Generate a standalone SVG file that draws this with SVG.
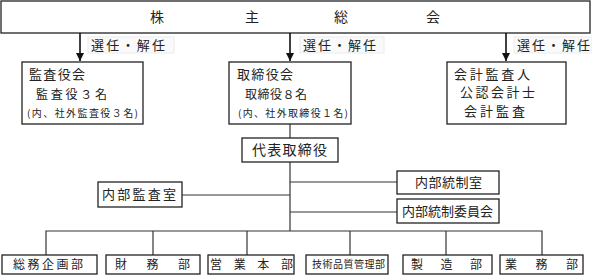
<svg xmlns="http://www.w3.org/2000/svg" width="592" height="275" viewBox="0 0 592 275">
<style>
text{font-family:"Noto Sans CJK JP","Noto Sans",sans-serif;fill:#222;}
.box{fill:#fff;stroke:#222;stroke-width:1.3;}
.lbl{fill:#fafafa;stroke:#ececec;stroke-width:1;}
.ln{stroke:#333;stroke-width:1.2;fill:none;}
.ar{stroke:#111;stroke-width:1.6;fill:none;}
.t13{font-size:13px;}
.t12{font-size:12px;}
.t10{font-size:10px;}
.t14{font-size:14px;}
</style>
<defs>
<marker id="ah" viewBox="0 0 10 10" refX="10" refY="5" markerWidth="5" markerHeight="5" orient="auto" markerUnits="strokeWidth">
<path d="M0,0 L10,5 L0,10 z" fill="#111"/>
</marker>
</defs>

<g id="shareholders">
<rect class="box" x="1" y="1" width="589" height="32"/>
<text class="t14" x="157" y="22" text-anchor="middle">株</text>
<text class="t14" x="252" y="22" text-anchor="middle">主</text>
<text class="t14" x="341" y="22" text-anchor="middle">総</text>
<text class="t14" x="433" y="22" text-anchor="middle">会</text>
</g>

<g id="connectors">
<line class="ar" x1="80" y1="33" x2="80" y2="61" marker-end="url(#ah)"/>
<line class="ar" x1="290" y1="33" x2="290" y2="61" marker-end="url(#ah)"/>
<line class="ar" x1="506" y1="33" x2="506" y2="61" marker-end="url(#ah)"/>
<line class="ln" x1="290" y1="124" x2="290" y2="138"/>
<line class="ln" x1="290" y1="162" x2="290" y2="231"/>
<line class="ln" x1="182" y1="195" x2="290" y2="195"/>
<line class="ln" x1="290" y1="182" x2="397" y2="182"/>
<line class="ln" x1="290" y1="212" x2="397" y2="212"/>
<polyline class="ln" points="46,255 46,231 542,231 542,255"/>
<line class="ln" x1="153" y1="231" x2="153" y2="255"/>
<line class="ln" x1="247" y1="231" x2="247" y2="255"/>
<line class="ln" x1="350" y1="231" x2="350" y2="255"/>
<line class="ln" x1="446" y1="231" x2="446" y2="255"/>
<g id="labels">
<rect class="lbl" x="88" y="37" width="86" height="16"/>
<text class="t13" x="91" y="50" textLength="74">選任・解任</text>
<rect class="lbl" x="300" y="37" width="84" height="16"/>
<text class="t13" x="303" y="50" textLength="73">選任・解任</text>
<rect class="lbl" x="514" y="37" width="78" height="16"/>
<text class="t13" x="517" y="50" textLength="73">選任・解任</text>
</g>
</g>

<g id="auditors">
<rect class="box" x="22" y="62" width="121" height="62"/>
<text class="t13" x="29" y="79" textLength="56">監査役会</text>
<text class="t12" x="36" y="99" textLength="71">監査役３名</text>
<text class="t10" x="27" y="117" textLength="111">(内、社外監査役３名)</text>
</g>

<g id="board">
<rect class="box" x="229" y="62" width="122" height="62"/>
<text class="t13" x="237" y="79" textLength="56">取締役会</text>
<text class="t12" x="245" y="99" textLength="62">取締役８名</text>
<text class="t10" x="238" y="117" textLength="110">(内、社外取締役１名)</text>
</g>

<g id="accounting-auditor">
<rect class="box" x="447" y="62" width="119" height="62"/>
<text class="t13" x="454" y="79" textLength="76">会計監査人</text>
<text class="t13" x="460" y="97" textLength="75">公認会計士</text>
<text class="t13" x="464" y="116" textLength="61">会計監査</text>
</g>

<g id="ceo">
<rect class="box" x="242" y="138" width="96" height="24"/>
<text class="t14" x="252" y="155" textLength="75">代表取締役</text>
</g>

<g id="internal-audit">
<rect class="box" x="98" y="182" width="84" height="25"/>
<text class="t13" x="102" y="199" textLength="74">内部監査室</text>
</g>

<g id="internal-control-office">
<rect class="box" x="397" y="171" width="102" height="23"/>
<text class="t13" x="415" y="187" textLength="67">内部統制室</text>
</g>

<g id="internal-control-committee">
<rect class="box" x="397" y="199" width="102" height="24"/>
<text class="t13" x="402" y="216" textLength="91">内部統制委員会</text>
</g>

<g id="dept-general">
<rect class="box" x="2" y="255" width="95" height="19"/>
<text class="t12" x="13" y="269" textLength="70">総務企画部</text>
</g>
<g id="dept-finance">
<rect class="box" x="106" y="255" width="94" height="19"/>
<text class="t12" x="115" y="269" textLength="75">財務部</text>
</g>
<g id="dept-sales">
<rect class="box" x="208" y="255" width="86" height="19"/>
<text class="t12" x="210" y="269" textLength="83">営業本部</text>
</g>
<g id="dept-quality">
<rect class="box" x="306" y="255" width="82" height="19"/>
<text class="t10" x="312" y="268" textLength="73">技術品質管理部</text>
</g>
<g id="dept-manufacturing">
<rect class="box" x="403" y="255" width="89" height="19"/>
<text class="t12" x="411" y="269" textLength="71">製造部</text>
</g>
<g id="dept-operations">
<rect class="box" x="500" y="255" width="83" height="19"/>
<text class="t12" x="505" y="269" textLength="73">業務部</text>
</g>
</svg>
